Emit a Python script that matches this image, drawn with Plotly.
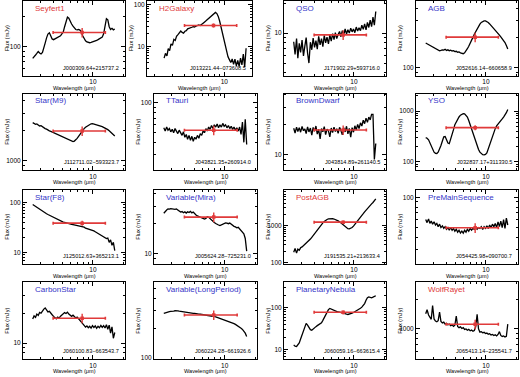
import math
import plotly.graph_objects as go

# ---------------- data ----------------
WL = [2.50, 2.58, 2.67, 2.75, 2.84, 2.93, 3.03, 3.13, 3.23, 3.33, 3.44, 3.55, 3.67, 3.79, 3.91,
      4.04, 4.17, 4.30, 4.44, 4.59, 4.74, 4.89, 5.05, 5.21, 5.38, 5.56, 5.74, 5.93, 6.12, 6.32,
      6.52, 6.73, 6.95, 7.18, 7.41, 7.65, 7.90, 8.16, 8.43, 8.70, 8.98, 9.28, 9.58, 9.89, 10.21,
      10.54, 10.89, 11.24, 11.61, 11.99, 12.38, 12.78, 13.20, 13.63, 14.07, 14.53, 15.00, 15.49, 15.99, 16.52]

SEYFERT1 = [76, 78, 82, 85, 89, 86, 84, 87, 95, 108, 122, 133, 137, 128, 119, 117, 119, 121, 122, 124,
            128, 134, 140, 158, 182, 197, 192, 176, 168, 160, 152, 148, 147, 148, 146, 140, 128, 120, 114, 111,
            110, 109, 110, 111, 111, 113, 115, 117, 119, 121, 124, 134, 160, 190, 185, 158, 148, 152, 147, 150]
H2GALAXY = [5.2, 6.8, 5.9, 8.8, 7.9, 11.5, 10.6, 14.8, 13.9, 17.5, 19.2, 22.0, 23.5, 21.8, 20.9, 23.2, 24.0, 26.5, 27.0, 27.8,
            29.0, 30.1, 29.5, 31.0, 32.5, 33.0, 31.8, 33.5, 36.0, 38.5, 41.0, 44.0, 47.5, 51.0, 55.0, 60.0, 64.0, 66.0, 62.0, 53.0,
            41.0, 29.0, 20.0, 13.5, 9.8, 7.2, 5.6, 4.8, 4.1, 5.0, 3.7, 4.9, 3.4, 4.6, 3.3, 5.2, 3.6, 6.5, 3.2, 9.0]
QSO = [8.2, 6.1, 8.8, 5.6, 7.9, 6.4, 8.5, 5.9, 7.4, 9.0, 6.3, 5.0, 8.1, 6.8, 8.9, 7.2, 8.4, 6.9, 9.3, 7.6,
       8.8, 7.3, 9.5, 8.0, 9.1, 7.8, 9.6, 8.3, 9.9, 8.6, 10.1, 8.8, 9.7, 10.4, 9.2, 10.6, 9.5, 11.0, 9.8, 10.8,
       10.0, 11.2, 10.3, 11.0, 10.1, 11.5, 10.5, 11.3, 10.6, 12.0, 10.9, 12.4, 10.8, 12.8, 11.4, 13.5, 11.6, 14.5, 12.0, 16.5]
AGB = [178, 175, 172, 169, 166, 162, 159, 157, 153, 150, 149, 150, 152, 151, 154, 150, 152, 149, 151, 148,
       149, 146, 147, 144, 145, 142, 140, 139, 142, 148, 156, 165, 175, 188, 203, 218, 233, 248, 263, 276,
       287, 294, 297, 297, 293, 286, 277, 268, 259, 249, 240, 232, 224, 214, 205, 197, 188, 180, 168, 155]
STAR_M9 = [2420, 2380, 2330, 2350, 2290, 2240, 2260, 2190, 2150, 2110, 2080, 2030, 2000, 1980, 1950, 1940, 1910, 1880, 1850, 1810,
           1790, 1760, 1730, 1710, 1690, 1660, 1640, 1600, 1570, 1560, 1580, 1620, 1680, 1760, 1850, 1940, 2030, 2110, 2180, 2230,
           2280, 2330, 2360, 2370, 2350, 2330, 2310, 2290, 2260, 2240, 2210, 2170, 2140, 2100, 2060, 2010, 1950, 1890, 1840, 1780]
TTAURI = [56, 52, 57, 53, 55, 51, 54, 50, 55, 52, 49, 53, 50, 47, 51, 45, 48, 43, 47, 42,
          46, 41, 45, 43, 47, 44, 49, 47, 52, 50, 55, 52, 57, 54, 59, 55, 60, 57, 61, 56,
          60, 57, 62, 58, 60, 56, 59, 55, 58, 54, 57, 53, 56, 52, 57, 48, 64, 40, 68, 38]
BROWNDWARF = [18.5, 16.6, 19.0, 17.2, 18.8, 16.9, 19.3, 17.5, 18.2, 16.4, 19.1, 17.0, 18.6, 15.8, 18.9, 17.3, 19.5, 16.2, 18.0, 14.5,
              18.4, 17.1, 19.2, 16.0, 18.1, 17.4, 15.2, 18.6, 16.8, 19.0, 17.2, 18.3, 16.5, 18.9, 17.6, 15.9, 18.7, 17.0, 19.4, 16.3,
              18.5, 15.1, 18.8, 16.9, 19.6, 17.8, 20.2, 18.4, 21.0, 19.5, 22.3, 20.6, 23.4, 21.2, 24.0, 22.5, 25.5, 25.5, 9.0, 13.0]
YSO = [300, 292, 272, 240, 205, 175, 155, 147, 146, 155, 175, 210, 258, 310, 315, 280, 235, 228, 275, 340,
       430, 540, 620, 700, 765, 830, 870, 885, 880, 830, 760, 650, 540, 440, 340, 285, 235, 200, 175, 155,
       144, 138, 137, 140, 150, 180, 230, 280, 340, 400, 450, 510, 560, 600, 650, 700, 760, 830, 930, 1070]
STAR_F8 = [90, 86, 83, 79, 76, 73, 70, 67, 64, 62, 59, 57, 55, 53, 51.5, 50, 48, 46.5, 45, 44,
           43, 41.5, 40.5, 40, 39, 38.5, 37.5, 37, 36.5, 36, 35.5, 35, 34.5, 34, 33.5, 34, 32.5, 32, 30.5, 30,
           29, 28.5, 28, 27.5, 27, 26, 25, 24.5, 23.5, 22.5, 22, 21, 20.5, 19, 19.5, 16, 18, 14, 16, 11]
MIRA = [25.5, 26.8, 27.5, 28.2, 28.0, 28.4, 28.1, 28.3, 27.9, 28.2, 27.6, 27.0, 26.2, 26.5, 25.8, 26.3, 25.6, 26.4, 25.9, 26.6,
        25.7, 26.2, 25.2, 24.5, 24.0, 23.6, 23.2, 22.8, 22.5, 22.3, 22.6, 23.5, 23.2, 22.4, 21.8, 21.2, 20.6, 20.1, 19.6, 19.4,
        19.2, 19.5, 19.9, 20.2, 20.4, 20.3, 20.0, 20.3, 19.7, 19.3, 18.8, 18.6, 18.2, 18.4, 17.8, 17.3, 16.6, 15.8, 14.2, 10.6]
POSTAGB = [190, 240, 180, 230, 215, 250, 265, 285, 310, 340, 365, 395, 430, 480, 540, 610, 690, 770, 860, 960,
           1060, 1170, 1280, 1380, 1450, 1500, 1530, 1540, 1520, 1490, 1450, 1400, 1330, 1250, 1160, 1070, 990, 920, 860, 820,
           810, 830, 880, 960, 1060, 1180, 1320, 1480, 1650, 1850, 2070, 2320, 2600, 2900, 3200, 3500, 3800, 4150, 4600, 5200]
PREMS = [60, 56, 61, 55, 58, 54, 57, 53, 55, 51, 54, 50, 52, 49, 51, 48, 50, 47, 50, 47,
         49, 46, 48, 45, 47, 44, 46, 44, 47, 45, 48, 46, 49, 47, 49, 48, 50, 48, 50, 49,
         51, 48, 51, 49, 52, 49, 53, 50, 54, 51, 55, 50, 57, 51, 58, 50, 60, 49, 62, 53]
CARBON = [17.5, 18.8, 18.2, 19.6, 19.0, 20.4, 20.0, 21.3, 22.0, 22.6, 21.2, 20.6, 20.9, 19.8, 19.3, 18.6, 18.0, 17.6, 18.3, 17.9,
          18.7, 19.2, 19.8, 20.3, 19.9, 20.5, 19.6, 19.0, 18.6, 19.1, 18.4, 17.9, 18.3, 17.5, 17.0, 16.5, 15.8, 15.1, 14.5, 14.9,
          14.3, 14.8, 14.2, 15.0, 14.4, 14.9, 14.1, 14.8, 14.3, 15.1, 14.4, 15.0, 14.2, 15.3, 13.8, 15.2, 12.6, 14.6, 11.2, 12.8]
LONGPERIOD = [282, 286, 289, 291, 293, 295, 294, 297, 299, 300, 298, 296, 294, 292, 290, 288, 289, 286, 284, 285,
              282, 281, 282, 279, 278, 277, 276, 275, 274, 273, 272, 271, 270, 268, 266, 264, 262, 260, 257, 254,
              252, 249, 246, 243, 241, 238, 235, 232, 229, 226, 222, 218, 214, 210, 205, 200, 194, 187, 178, 165]
PLANNEB = [13.1, 12.2, 12.0, 12.8, 14.5, 18.0, 23.0, 30.0, 38.0, 42.5, 38.5, 34.0, 30.0, 29.0, 31.5, 34.0, 35.5, 37.5, 39.0, 41.0,
           44.0, 50.0, 58.0, 68.0, 80.0, 90.0, 96.0, 93.0, 87.0, 84.0, 82.0, 80.5, 79.0, 78.0, 77.0, 75.5, 74.0, 72.5, 70.0, 69.0,
           70.0, 72.0, 74.0, 77.0, 80.0, 83.0, 87.0, 92.0, 97.0, 103.0, 112.0, 125.0, 150.0, 172.0, 180.0, 176.0, 172.0, 178.0, 185.0, 192.0]
WOLFRAYET = [1420, 1560, 1380, 1300, 1250, 1720, 1260, 1200, 1180, 1210, 1480, 1190, 1150, 1170, 1120, 1140, 1100, 1120, 1080, 1100,
             1060, 1090, 1350, 1060, 1030, 1050, 1010, 1030, 990, 1000, 970, 990, 960, 975, 950, 965, 1050, 1400, 1000, 930,
             940, 915, 925, 900, 910, 885, 895, 870, 880, 860, 875, 850, 880, 940, 860, 840, 850, 830, 845, 1120]

CLASSES = ["Seyfert1", "H2Galaxy", "QSO", "AGB", "Star(M9)", "TTauri", "BrownDwarf", "YSO",
           "Star(F8)", "Variable(Mira)", "PostAGB", "PreMainSequence", "CarbonStar",
           "Variable(LongPeriod)", "PlanetaryNebula", "WolfRayet"]
SOURCES = ["J000309.64+215737.2", "J013221.44\u2212073608.5", "J171902.29+593716.0", "J052616.14\u2212660658.9",
           "J112711.02\u2212593323.7", "J043821.35+260914.0", "J043814.89+261140.5", "J032837.17+311330.5",
           "J125012.63+365213.1", "J005624.28\u2212725231.0", "J191535.21+213633.4", "J054425.98+090700.7",
           "J060100.83\u2212663543.7", "J060224.28\u2212661926.6", "J060059.16\u2212663615.4", "J065413.14\u2212235541.7"]
RED_TITLES = ["Seyfert1", "H2Galaxy", "PostAGB", "WolfRayet"]
BAR_FLUX = [138, 32, 9.6, 204, 1995, 53, 17.8, 471, 38.5, 23.3, 1228, 49.7, 17.8, 271, 77.6, 1113]
BAR_CENTER = 7.8
BAR_LO = 4.0
BAR_HI = 13.3
SPECTRA = [SEYFERT1, H2GALAXY, QSO, AGB, STAR_M9, TTAURI, BROWNDWARF, YSO,
           STAR_F8, MIRA, POSTAGB, PREMS, CARBON, LONGPERIOD, PLANNEB, WOLFRAYET]

# ---------------- layout (pixels) ----------------
W, H = 520, 377
COLS = [[(23, 125), (147, 252), (284, 386), (416, 518)]] + [[(23, 125), (154, 257), (284, 386), (416, 518)]] * 3
ROWS = [(1, 76), (94, 171), (191, 265), (284, 361)]
XR_STD = [math.log10(2.0), math.log10(20.9)]
XR = [XR_STD] * 16
XR[1] = [0.227, 1.277]
YR = [[1.707, 2.457], [0.296, 2.096], [0.573, 1.323], [1.923, 2.673],
      [2.907, 3.677], [1.323, 2.093], [0.847, 1.617], [1.837, 3.346],
      [0.783, 2.243], [0.900, 1.640], [1.973, 3.955], [1.340, 2.073],
      [0.840, 1.610], [1.990, 2.760], [0.780, 2.598], [2.697, 3.467]]

RED = "#e03a3a"
BLUE = "#3535c8"
FONT = "Liberation Sans, Arial, sans-serif"

fig = go.Figure()
annotations = []
layout = dict(width=W, height=H, margin=dict(l=0, r=0, t=0, b=0), showlegend=False,
              paper_bgcolor="white", plot_bgcolor="white")


def minor_vals(lo, hi):
    vals = []
    for e in range(int(math.floor(lo)) - 1, int(math.ceil(hi)) + 1):
        for k in range(2, 10):
            v = k * 10 ** e
            if lo <= math.log10(v) <= hi:
                vals.append(v)
    return vals


def major_vals(lo, hi):
    vals = []
    for e in range(int(math.floor(lo)) - 1, int(math.ceil(hi)) + 1):
        if lo <= e <= hi:
            vals.append(10 ** e)
    return vals


for i in range(16):
    r, c = divmod(i, 4)
    (x0, x1) = COLS[r][c]
    (y0, y1) = ROWS[r]
    sfx = "" if i == 0 else str(i + 1)
    xa, ya = "x" + sfx, "y" + sfx

    fig.add_trace(go.Scatter(x=WL, y=SPECTRA[i], mode="lines", xaxis=xa, yaxis=ya,
                             line=dict(color="black", width=1.3), hoverinfo="skip"))
    fig.add_trace(go.Scatter(x=[BAR_CENTER], y=[BAR_FLUX[i]], mode="markers", xaxis=xa, yaxis=ya,
                             marker=dict(symbol="square", size=3.5, color=RED),
                             error_x=dict(type="data", symmetric=False, array=[BAR_HI - BAR_CENTER],
                                          arrayminus=[BAR_CENTER - BAR_LO], color=RED, thickness=1.6, width=1.5),
                             error_y=dict(type="percent", value=11, color=RED, thickness=1.4, width=0),
                             hoverinfo="skip"))

    common = dict(type="log", showline=True, linecolor="black", linewidth=1, mirror="ticks",
                  ticks="inside", ticklen=4, tickwidth=1, tickcolor="black", showgrid=False,
                  zeroline=False, tickfont=dict(size=6.5, family=FONT, color="black"))
    ymaj = major_vals(*YR[i])
    layout["xaxis" + sfx] = dict(common, range=XR[i], domain=[x0 / W, x1 / W], anchor=ya,
                                 tickmode="array", tickvals=[10], ticktext=["10"],
                                 minor=dict(tickmode="array", tickvals=[2, 3, 4, 5, 6, 7, 8, 9, 20],
                                            ticks="inside", ticklen=2, tickcolor="black", showgrid=False))
    layout["yaxis" + sfx] = dict(common, range=YR[i], domain=[1 - y1 / H, 1 - y0 / H], anchor=xa,
                                 tickmode="array", tickvals=ymaj, ticktext=[str(int(v)) for v in ymaj],
                                 minor=dict(tickmode="array", tickvals=minor_vals(*YR[i]),
                                            ticks="inside", ticklen=2, tickcolor="black", showgrid=False))

    annotations.append(dict(xref="paper", yref="paper", x=(x0 + 10) / W, y=1 - (y0 + 7.5) / H,
                            xanchor="left", yanchor="middle", showarrow=False, text=CLASSES[i],
                            font=dict(size=8, family=FONT, color=RED if CLASSES[i] in RED_TITLES else BLUE)))
    annotations.append(dict(xref="paper", yref="paper", x=(x1 - 4) / W, y=1 - (y1 - 8) / H,
                            xanchor="right", yanchor="middle", showarrow=False, text=SOURCES[i],
                            font=dict(size=5.6, family=FONT, color="black")))
    annotations.append(dict(xref="paper", yref="paper", x=(x0 + x1) / 2 / W, y=1 - (y1 + 12) / H,
                            xanchor="center", yanchor="middle", showarrow=False, text="Wavelength (\u03bcm)",
                            font=dict(size=5.6, family=FONT, color="black")))
    annotations.append(dict(xref="paper", yref="paper", x=(x0 - 16) / W, y=1 - (y0 + y1) / 2 / H,
                            xanchor="center", yanchor="middle", showarrow=False, text="Flux (mJy)",
                            textangle=-90, font=dict(size=5.6, family=FONT, color="black")))

layout["annotations"] = annotations
fig.update_layout(**layout)
fig.write_html("out.html", config={"responsive": False, "displayModeBar": False},
               post_script="document.body.style.margin='0';document.body.style.padding='0';"
                           "document.documentElement.style.overflow='hidden';")
